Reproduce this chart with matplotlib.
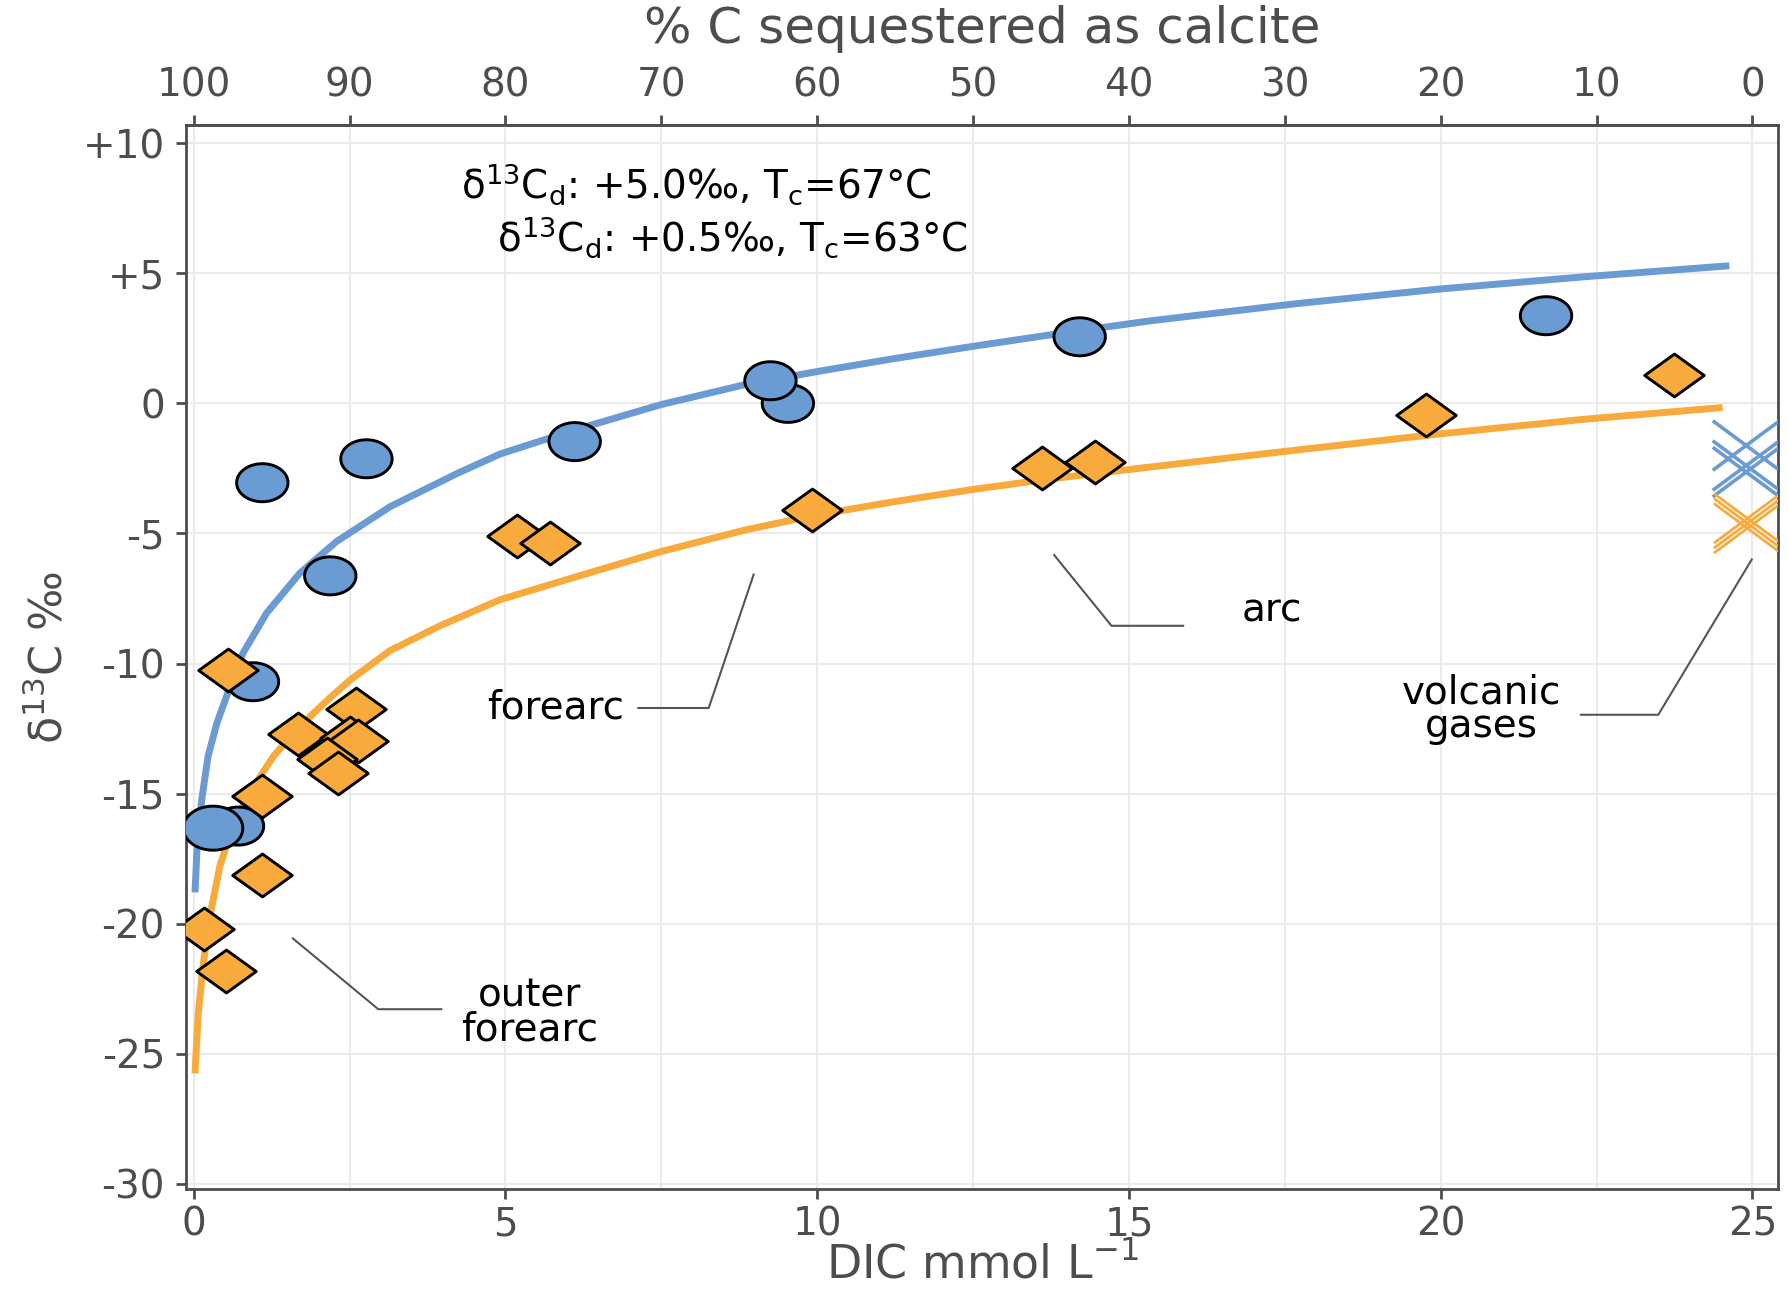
import numpy as np
import matplotlib
matplotlib.use("Agg")
import matplotlib.pyplot as plt
from matplotlib.path import Path

# model curves (DIC mmol/L -> d13C permil)
blue_curve_x = [0.02, 0.06, 0.13, 0.23, 0.37, 0.55, 0.79, 1.17, 1.70, 2.29, 3.15, 4.22,
                4.91, 6.14, 7.49, 8.84, 9.99, 11.23, 12.52, 13.81, 15.33, 17.67, 20.0,
                22.32, 24.63]
blue_curve_y = [-18.8, -16.75, -15.2, -13.56, -12.3, -11.1, -9.6, -8.06, -6.53, -5.31, -3.97,
                -2.7, -1.95, -1.0, -0.05, 0.72, 1.22, 1.72, 2.2, 2.66, 3.17, 3.83, 4.4,
                4.87, 5.29]
orange_curve_x = [0.02, 0.07, 0.15, 0.26, 0.42, 0.63, 0.9, 1.28, 1.70, 2.18, 2.5, 3.15,
                  3.95, 4.91, 6.14, 7.49, 8.84, 9.99, 11.23, 12.52, 13.81, 15.33, 17.67,
                  20.0, 22.26, 24.52]
orange_curve_y = [-25.76, -23.53, -21.61, -19.69, -17.78, -16.24, -14.96, -13.56, -12.41,
                  -11.33, -10.65, -9.5, -8.55, -7.55, -6.66, -5.70, -4.87, -4.29, -3.78,
                  -3.3, -2.88, -2.45, -1.8, -1.17, -0.62, -0.16]

# samples
circle_x = [1.10, 2.77, 2.19, 0.95, 0.71, 0.31, 6.11, 9.53, 9.25, 14.21, 21.69]
circle_y = [-3.05, -2.13, -6.63, -10.7, -16.25, -16.33, -1.47, 0.0, 0.87, 2.56, 3.37]
circle_big = [False, False, False, False, False, True, False, False, False, False, False]

diamond_x = [0.55, 1.09, 1.10, 0.16, 0.52, 1.67, 2.61, 2.5, 2.64, 2.13, 2.32,
             5.19, 5.71, 9.92, 13.6, 14.46, 19.77, 23.75]
diamond_y = [-10.25, -15.1, -18.12, -20.22, -21.83, -12.7, -11.75, -12.86, -12.98, -13.69, -14.2,
             -5.1, -5.35, -4.11, -2.47, -2.25, -0.44, 1.1]

# volcanic gases
gas_blue_x = [24.9, 24.9, 24.9]
gas_blue_y = [-1.62, -2.39, -2.64]
gas_orange_x = [24.92, 24.92, 24.92]
gas_orange_y = [-4.42, -4.61, -4.80]

x_ticks = [0, 5, 10, 15, 20, 25]
y_ticks = [-30, -25, -20, -15, -10, -5, 0, 5, 10]
y_tick_labels = ["-30", "-25", "-20", "-15", "-10", "-5", "0", "+5", "+10"]
top_ticks = [100, 90, 80, 70, 60, 50, 40, 30, 20, 10, 0]

BLUE = "#6A9BD2"
ORANGE = "#F8AA3C"
GRAY = "#4D4D4D"

plt.rcParams["font.family"] = ["DejaVu Sans"]
plt.rcParams["mathtext.fontset"] = "dejavusans"

# markers are drawn wider than tall in the original
t = np.linspace(0, 2 * np.pi, 80)
ellipse = Path(np.column_stack([np.cos(t), 0.74 * np.sin(t)]))
diamond = Path([(1, 0), (0, 0.72), (-1, 0), (0, -0.72), (1, 0)], closed=True)
cross = Path([(-1, -0.74), (1, 0.74), (-1, 0.74), (1, -0.74)],
             [Path.MOVETO, Path.LINETO, Path.MOVETO, Path.LINETO])

fig = plt.figure(figsize=(17.88, 12.89), dpi=100)
ax = fig.add_axes([0.104, 0.0776, 0.8904, 0.8254])

ax.set_xlim(-0.125, 25.41)
ax.set_ylim(-30.2, 10.7)

ax.set_axisbelow(True)
ax.set_xticks(x_ticks)
ax.set_xticks(np.arange(2.5, 25, 5), minor=True)
ax.set_yticks(y_ticks)
ax.set_yticklabels(y_tick_labels)
ax.xaxis.grid(True, which="both", color="#EBEBEB", lw=1.5)
ax.yaxis.grid(True, which="major", color="#EBEBEB", lw=1.5)
ax.tick_params(which="major", direction="out", length=7, width=2, color=GRAY,
               labelcolor=GRAY, labelsize=28)
ax.tick_params(axis="x", which="major", pad=5)
ax.tick_params(axis="y", which="major", pad=8)
ax.tick_params(which="minor", length=0)
for sp in ax.spines.values():
    sp.set_color(GRAY)
    sp.set_linewidth(2)

# curves
ax.plot(blue_curve_x, blue_curve_y, color=BLUE, lw=5, zorder=2,
        solid_capstyle="butt", solid_joinstyle="round")
ax.plot(orange_curve_x, orange_curve_y, color=ORANGE, lw=5, zorder=2,
        solid_capstyle="butt", solid_joinstyle="round")

# points
sizes = [1835 if b else 1370 for b in circle_big]
ax.scatter(circle_x, circle_y, s=sizes, marker=ellipse, facecolor=BLUE,
           edgecolor="black", linewidths=2.1, zorder=3)
ax.scatter(diamond_x, diamond_y, s=1835, marker=diamond, facecolor=ORANGE,
           edgecolor="black", linewidths=2.1, zorder=4)
ax.scatter(gas_blue_x, gas_blue_y, s=2325, marker=cross, facecolors="none",
           edgecolors=BLUE, linewidths=2.6, zorder=3)
ax.scatter(gas_orange_x, gas_orange_y, s=2325, marker=cross, facecolors="none",
           edgecolors=ORANGE, linewidths=2.0, zorder=3)

# labels with leader lines
lead = dict(color="#555555", lw=1.5, zorder=1.5)
ax.plot([7.13, 8.26, 8.98], [-11.71, -11.71, -6.58], **lead)
ax.text(5.80, -11.71, "forearc", ha="center", va="center", fontsize=28)
ax.plot([15.87, 14.72, 13.8], [-8.55, -8.55, -5.83], **lead)
ax.text(17.29, -7.98, "arc", ha="center", va="center", fontsize=28)
ax.plot([3.97, 2.96, 1.59], [-23.29, -23.29, -20.57], **lead)
ax.text(5.39, -23.42, "outer\nforearc", ha="center", va="center", fontsize=28, linespacing=0.85)
ax.plot([22.25, 23.49, 24.99], [-11.97, -11.97, -6.0], **lead)
ax.text(20.66, -11.75, "volcanic\ngases", ha="center", va="center", fontsize=28, linespacing=0.85)

ax.text(4.28, 8.42, r"δ$^{13}$C$_\mathrm{d}$: +5.0‰, T$_\mathrm{c}$=67°C",
        ha="left", va="center", fontsize=28)
ax.text(4.86, 6.37, r"δ$^{13}$C$_\mathrm{d}$: +0.5‰, T$_\mathrm{c}$=63°C",
        ha="left", va="center", fontsize=28)

ax.set_xlabel(r"DIC mmol L$^{-1}$", fontsize=33, color=GRAY, labelpad=0)
ax.set_ylabel(r"δ$^{13}$C ‰", fontsize=32, color=GRAY, labelpad=8)

# top axis: share of carbon taken up as calcite
sec = ax.secondary_xaxis("top", functions=(lambda d: 100 - 4 * d, lambda p: (100 - p) / 4))
sec.set_xticks(top_ticks)
sec.tick_params(direction="out", length=7, width=2, color=GRAY, labelcolor=GRAY,
                labelsize=28, pad=8)
sec.spines["top"].set_color(GRAY)
sec.spines["top"].set_linewidth(2)
sec.set_xlabel("% C sequestered as calcite", fontsize=36, color=GRAY, labelpad=17)

fig.savefig("out.png", dpi=100)
